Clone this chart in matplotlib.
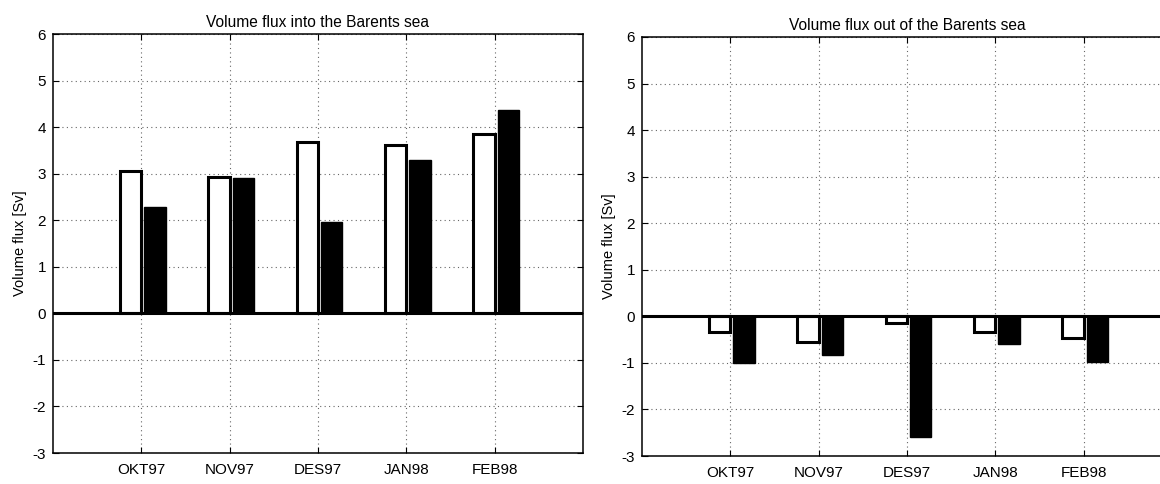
import numpy as np
import matplotlib
matplotlib.use('Agg')
import matplotlib.pyplot as plt

plt.rcParams['font.family'] = ['Liberation Sans', 'DejaVu Sans']
plt.rcParams['axes.unicode_minus'] = False

months = ['OKT97', 'NOV97', 'DES97', 'JAN98', 'FEB98']

# volume flux [Sv], two series per month (open and filled bars)
flux_in_a = [3.05, 2.93, 3.69, 3.62, 3.86]
flux_in_b = [2.28, 2.90, 1.97, 3.29, 4.37]
flux_out_a = [-0.34, -0.56, -0.15, -0.33, -0.47]
flux_out_b = [-1.00, -0.82, -2.60, -0.60, -0.98]

x = np.arange(1, len(months) + 1)
w = 0.24


def flux_panel(ax, a, b, title):
    ax.bar(x - 0.12, a, w, color='white', edgecolor='black', linewidth=2.2, zorder=3)
    ax.bar(x + 0.155, b, w, color='black', edgecolor='black', linewidth=1, zorder=3)
    ax.axhline(0, color='black', linewidth=2.2, zorder=4)
    ax.set_xlim(0, 6)
    ax.set_ylim(-3, 6)
    ax.set_xticks(x)
    ax.set_xticklabels(months, fontsize=11)
    ax.set_yticks(range(-3, 7))
    ax.grid(True, linestyle=(0, (1, 3)), color='0.4', linewidth=0.8, zorder=0)
    ax.tick_params(direction='in', top=True, right=True, length=4, pad=7)
    ax.tick_params(axis='y', labelsize=11, pad=5)
    ax.set_title(title, fontsize=11.2, pad=5)
    ax.set_ylabel('Volume flux [Sv]', fontsize=10.5, labelpad=4)
    for s in ax.spines.values():
        s.set_linewidth(1.1)


fig = plt.figure(figsize=(11.6, 4.84), dpi=100)
ax1 = fig.add_axes([53 / 1160, 1 - 453 / 484, 530 / 1160, 419 / 484])
ax2 = fig.add_axes([642 / 1160, 1 - 456 / 484, 530 / 1160, 419 / 484])

flux_panel(ax1, flux_in_a, flux_in_b, 'Volume flux into the Barents sea')
flux_panel(ax2, flux_out_a, flux_out_b, 'Volume flux out of the Barents sea')

fig.savefig('out.png', dpi=100)
